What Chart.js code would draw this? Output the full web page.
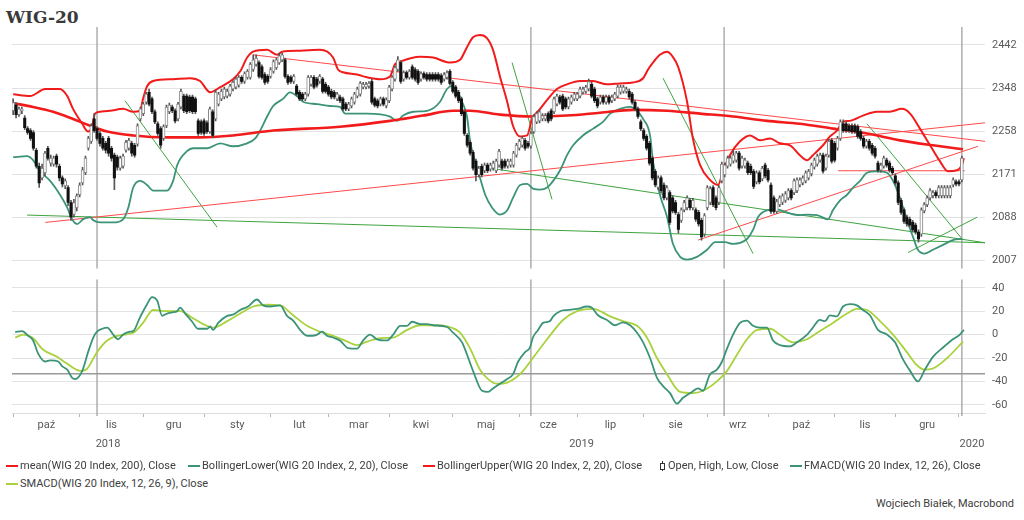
<!DOCTYPE html>
<html lang="pl">
<head>
<meta charset="utf-8">
<title>WIG-20</title>
<script src="https://cdn.jsdelivr.net/npm/chart.js@4.4.1/dist/chart.umd.min.js"></script>
<style>
  html,body{margin:0;padding:0;background:#fff;}
  body{width:1024px;height:520px;position:relative;overflow:hidden;font-family:Roboto,"Open Sans",sans-serif;color:#404040;}
  #title{position:absolute;left:6px;top:7px;font:bold 17px/20px "DejaVu Serif",serif;color:#3a3a3a;}
  #c1{position:absolute;left:0;top:0;}
  #c2{position:absolute;left:0;top:266px;}
  .lg{position:absolute;font-size:11px;line-height:14px;white-space:nowrap;color:#404040;}
  .mk{position:absolute;height:2px;width:12px;}
  #src{position:absolute;right:10px;top:497px;font-size:11px;line-height:14px;color:#404040;}
</style>
</head>
<body>
<div id="title">WIG-20</div>
<canvas id="c1" width="1024" height="282"></canvas>
<canvas id="c2" width="1024" height="186"></canvas>

<span class="mk" style="left:6px;top:465px;background:#f21b1b"></span>
<span class="lg" style="left:20px;top:459px">mean(WIG 20 Index, 200), Close</span>
<span class="mk" style="left:188px;top:465px;background:#3b9378"></span>
<span class="lg" style="left:202px;top:459px">BollingerLower(WIG 20 Index, 2, 20), Close</span>
<span class="mk" style="left:423px;top:465px;background:#f21b1b"></span>
<span class="lg" style="left:437px;top:459px">BollingerUpper(WIG 20 Index, 2, 20), Close</span>
<span style="position:absolute;left:662px;top:461px;width:1px;height:10px;background:#333"></span>
<span style="position:absolute;left:660px;top:463px;width:3px;height:5px;border:1px solid #333;background:#fff"></span>
<span class="lg" style="left:668px;top:459px">Open, High, Low, Close</span>
<span class="mk" style="left:790px;top:465px;background:#3b9378"></span>
<span class="lg" style="left:804px;top:459px">FMACD(WIG 20 Index, 12, 26), Close</span>
<span class="mk" style="left:6px;top:483px;background:#a9d23c"></span>
<span class="lg" style="left:20px;top:477px">SMACD(WIG 20 Index, 12, 26, 9), Close</span>
<div id="src">Wojciech Białek, Macrobond</div>

<script>
// ---------------- DATA ----------------
// x unit = one weekday; index 0 = 1 Oct 2018
const xMin = -0.4, xMax = 336;
const monthStarts = [0,23,45,66,89,109,130,152,175,195,218,240,261,284,305,327];
const monthNames = ['paź','lis','gru','sty','lut','mar','kwi','maj','cze','lip','sie','wrz','paź','lis','gru'];
const yearStarts = [66,327];
const yearNames = ['2018','2019','2020'];
const priceTicks = [2007,2088,2171,2258,2348,2442];
const macdTicks = [-60,-50,-40,-30,-20,-10,0,10,20,30,40];
const markerDays = [29,179,245.8,328];
const macdRefLevel = -33.5;

const candleOpen = [
2300,2312,2292,2300,2285,2263,2259,2255,2219,2187,
2164,2174,2223,2193,2191,2207,2187,2164,2148,2145,
2116,2093,2106,2131,2154,2174,2223,2237,2283,2263,
2253,2243,2233,2243,2223,2209,2205,2183,2187,2219,
2223,2233,2229,2231,2283,2294,2318,2339,2325,2298,
2273,2263,2243,2269,2298,2308,2300,2283,2308,2331,
2331,2329,2329,2325,2279,2277,2279,2275,2257,2298,
2283,2314,2325,2329,2331,2335,2346,2350,2354,2371,
2362,2371,2371,2388,2399,2403,2394,2377,2373,2373,
2384,2392,2403,2409,2409,2373,2371,2362,2352,2339,
2335,2325,2335,2356,2371,2367,2362,2367,2356,2350,
2341,2339,2325,2329,2325,2314,2304,2310,2318,2331,
2335,2350,2350,2352,2362,2325,2321,2314,2325,2310,
2321,2346,2367,2388,2403,2367,2381,2371,2394,2388,
2384,2367,2379,2377,2377,2377,2377,2377,2375,2367,
2371,2384,2360,2350,2339,2325,2298,2249,2235,2215,
2197,2170,2187,2178,2189,2181,2183,2178,2189,2197,
2197,2187,2189,2189,2209,2223,2229,2239,2233,2227,
2257,2277,2279,2283,2283,2294,2300,2298,2314,2329,
2331,2325,2308,2318,2325,2325,2331,2339,2341,2346,
2356,2346,2325,2318,2329,2318,2329,2321,2325,2331,
2339,2341,2341,2341,2335,2318,2304,2277,2259,2247,
2233,2203,2177,2145,2164,2150,2125,2135,2125,2116,
2093,2082,2102,2106,2120,2106,2102,2097,2082,2056,
2106,2116,2145,2125,2116,2158,2170,2187,2191,2197,
2199,2213,2187,2187,2193,2187,2177,2156,2174,2162,
2189,2179,2150,2125,2099,2112,2116,2120,2125,2139,
2135,2139,2150,2154,2158,2164,2172,2185,2191,2199,
2209,2183,2209,2239,2233,2223,2243,2273,2273,2269,
2269,2269,2267,2257,2243,2227,2237,2229,2223,2193,
2179,2187,2199,2193,2183,2168,2154,2120,2102,2088,
2084,2078,2073,2060,2056,2100,2112,2125,2129,2135,
2129,2129,2129,2129,2129,2150,2156,2156,2160];

const candleHigh = [
2325,2317,2308,2308,2290,2267,2263,2259,2223,2193,
2191,2217,2227,2209,2207,2211,2191,2168,2162,2149,
2120,2122,2133,2154,2185,2207,2247,2273,2294,2267,
2257,2247,2237,2247,2227,2213,2209,2207,2211,2239,
2243,2237,2233,2273,2308,2318,2339,2346,2329,2302,
2277,2267,2271,2312,2316,2312,2304,2318,2346,2335,
2335,2333,2333,2329,2283,2281,2283,2279,2308,2302,
2343,2339,2346,2350,2346,2356,2364,2371,2375,2375,
2383,2388,2403,2420,2420,2407,2398,2381,2377,2392,
2409,2413,2424,2424,2413,2377,2375,2377,2356,2343,
2339,2339,2375,2375,2375,2371,2377,2371,2360,2354,
2346,2343,2339,2333,2329,2318,2318,2329,2339,2350,
2362,2360,2360,2362,2367,2329,2325,2329,2329,2327,
2354,2375,2396,2416,2407,2385,2385,2388,2398,2392,
2388,2383,2383,2381,2381,2381,2381,2381,2379,2381,
2385,2388,2364,2354,2343,2329,2302,2253,2239,2219,
2201,2187,2191,2193,2193,2193,2197,2201,2221,2201,
2201,2201,2201,2217,2233,2241,2247,2243,2237,2257,
2292,2298,2302,2294,2294,2298,2304,2329,2335,2333,
2335,2329,2329,2333,2339,2339,2350,2350,2354,2367,
2360,2350,2329,2333,2333,2333,2333,2333,2339,2354,
2354,2354,2350,2346,2339,2322,2308,2281,2263,2251,
2237,2207,2181,2168,2168,2154,2149,2139,2129,2120,
2097,2106,2120,2129,2124,2124,2106,2101,2086,2095,
2149,2147,2149,2129,2149,2195,2193,2207,2207,2219,
2217,2217,2207,2203,2197,2191,2181,2178,2178,2187,
2193,2183,2154,2129,2122,2129,2133,2137,2143,2143,
2162,2164,2164,2168,2178,2181,2193,2203,2211,2213,
2213,2211,2241,2243,2237,2247,2281,2281,2277,2273,
2273,2273,2271,2261,2247,2241,2241,2233,2227,2197,
2193,2207,2203,2197,2187,2172,2158,2124,2106,2092,
2088,2082,2077,2064,2106,2116,2129,2143,2139,2139,
2149,2149,2149,2149,2149,2164,2160,2160,2207];

const candleLow = [
2292,2285,2288,2294,2261,2251,2239,2219,2183,2145,
2160,2168,2199,2187,2187,2185,2158,2146,2143,2110,
2082,2088,2100,2127,2150,2170,2219,2233,2255,2239,
2227,2219,2213,2207,2197,2141,2179,2179,2183,2215,
2219,2207,2205,2227,2279,2290,2314,2310,2294,2273,
2249,2223,2239,2265,2294,2296,2275,2279,2304,2296,
2294,2296,2294,2294,2249,2251,2249,2253,2253,2245,
2279,2310,2321,2325,2327,2331,2342,2346,2350,2358,
2358,2367,2367,2384,2395,2369,2367,2356,2358,2369,
2380,2388,2399,2405,2369,2356,2358,2358,2331,2321,
2321,2321,2331,2352,2346,2350,2358,2337,2337,2331,
2325,2325,2321,2317,2300,2300,2300,2306,2314,2327,
2331,2346,2346,2348,2314,2308,2306,2310,2310,2306,
2317,2342,2363,2384,2358,2363,2367,2367,2367,2363,
2356,2363,2367,2363,2363,2363,2363,2363,2356,2363,
2367,2354,2337,2327,2317,2290,2249,2225,2209,2179,
2158,2166,2166,2174,2174,2177,2179,2174,2185,2179,
2183,2183,2185,2185,2205,2219,2225,2219,2223,2223,
2253,2273,2275,2279,2279,2275,2279,2294,2310,2314,
2300,2304,2304,2314,2321,2321,2327,2335,2337,2342,
2327,2317,2306,2314,2314,2314,2314,2317,2321,2327,
2335,2337,2337,2325,2314,2300,2284,2259,2239,2219,
2189,2160,2146,2141,2135,2121,2121,2074,2096,2093,
2058,2078,2098,2102,2102,2102,2080,2071,2045,2052,
2102,2112,2108,2102,2112,2154,2166,2183,2187,2193,
2195,2179,2183,2183,2170,2170,2143,2152,2152,2158,
2164,2156,2095,2095,2095,2108,2112,2116,2121,2121,
2131,2135,2146,2150,2154,2160,2168,2181,2187,2195,
2173,2179,2205,2193,2195,2219,2239,2255,2255,2255,
2253,2253,2243,2239,2223,2223,2219,2209,2203,2175,
2175,2183,2185,2175,2170,2150,2112,2093,2076,2071,
2069,2060,2056,2041,2052,2096,2108,2121,2125,2125,
2125,2125,2125,2125,2125,2146,2148,2148,2156];

const candleClose = [
2317,2292,2304,2304,2265,2255,2243,2223,2187,2154,
2183,2213,2203,2203,2203,2191,2164,2152,2158,2116,
2088,2116,2129,2150,2180,2203,2243,2269,2259,2243,
2233,2223,2219,2213,2203,2164,2185,2203,2207,2235,
2239,2213,2209,2269,2304,2314,2335,2314,2298,2277,
2253,2229,2267,2308,2312,2300,2279,2314,2341,2300,
2298,2300,2298,2298,2253,2255,2253,2257,2304,2249,
2339,2335,2341,2346,2341,2352,2360,2367,2371,2362,
2379,2384,2399,2409,2413,2373,2371,2360,2362,2388,
2405,2409,2418,2420,2373,2360,2362,2373,2335,2325,
2325,2335,2371,2371,2350,2354,2373,2341,2341,2335,
2329,2329,2335,2321,2304,2304,2314,2325,2335,2346,
2358,2356,2356,2358,2318,2312,2310,2325,2314,2323,
2350,2371,2392,2409,2362,2381,2371,2384,2371,2367,
2360,2379,2371,2367,2367,2367,2367,2367,2360,2377,
2381,2358,2341,2331,2321,2294,2253,2229,2213,2183,
2170,2183,2170,2189,2178,2189,2193,2197,2217,2183,
2187,2197,2197,2213,2229,2237,2243,2223,2227,2253,
2288,2294,2298,2290,2290,2279,2283,2325,2331,2318,
2304,2308,2325,2329,2335,2335,2346,2346,2350,2362,
2331,2321,2310,2329,2318,2329,2318,2329,2335,2350,
2350,2350,2346,2329,2318,2304,2288,2263,2243,2223,
2193,2164,2150,2164,2139,2125,2145,2078,2100,2097,
2065,2102,2116,2125,2106,2120,2084,2075,2051,2091,
2145,2143,2112,2106,2145,2191,2189,2203,2203,2209,
2213,2183,2203,2199,2174,2174,2147,2174,2156,2183,
2168,2160,2099,2099,2118,2125,2129,2133,2139,2125,
2158,2160,2160,2164,2174,2177,2189,2199,2207,2209,
2177,2207,2237,2197,2199,2243,2277,2259,2259,2259,
2257,2257,2247,2243,2227,2237,2223,2213,2207,2179,
2189,2203,2189,2179,2174,2154,2116,2097,2080,2075,
2073,2064,2060,2047,2102,2112,2125,2139,2135,2129,
2145,2145,2145,2145,2145,2160,2152,2152,2203];

// [weekday index, value]
const mean200 = [[0,2316],[6.9,2308],[13.8,2298],[20.7,2283],[26.6,2269],[32.5,2257],[41.5,2249],[53.2,2245],[64.6,2245],[76,2249],[89.9,2259],[113,2267],[130.3,2279],[141.7,2290],[152.1,2300],[158,2300],[168.3,2292],[179.7,2288],[191.5,2290],[202.9,2296],[214.3,2302],[226.1,2300],[237.5,2294],[248.9,2288],[260.6,2279],[272,2273],[283.4,2263],[295.2,2253],[306.6,2239],[318,2229],[328.4,2221]];

const bbUpper = [[0,2335],[5.9,2331],[11.1,2346],[16.2,2346],[18.7,2331],[20.7,2304],[23.9,2273],[25.9,2257],[27.3,2267],[28.3,2294],[30.1,2298],[33.5,2300],[38,2304],[41.5,2298],[43.9,2300],[44.9,2325],[46.3,2352],[48.4,2363],[55.3,2367],[61.2,2369],[64.6,2363],[68.1,2339],[71.6,2350],[76,2367],[78.5,2384],[80.9,2414],[83,2427],[87.8,2431],[91.3,2420],[93,2427],[99.2,2429],[106.1,2431],[110.6,2414],[112.3,2388],[114.1,2382],[118.9,2377],[122.4,2371],[126.9,2367],[130.3,2373],[132,2399],[133.8,2405],[140.7,2416],[145.2,2414],[151.1,2403],[154.5,2409],[156.9,2437],[159,2459],[161.4,2464],[163.8,2457],[165.9,2431],[168.3,2373],[170.8,2319],[172.8,2269],[175.3,2247],[177.7,2249],[179.4,2283],[182.2,2304],[184.9,2325],[188,2346],[191.5,2356],[196,2363],[200.5,2363],[205.3,2356],[209.8,2358],[214.3,2360],[217.8,2369],[219.5,2388],[221.2,2403],[223.6,2420],[226.1,2427],[227.8,2418],[229.9,2394],[233,2319],[235,2243],[237.5,2189],[240.9,2160],[243.7,2150],[245.4,2177],[247.8,2209],[251.3,2237],[254.8,2249],[258.2,2239],[261.7,2243],[265.1,2233],[268.6,2229],[272,2209],[274.5,2199],[276.5,2209],[280,2229],[282.4,2247],[284.8,2259],[286.9,2277],[289.3,2279],[293.8,2290],[298.6,2298],[303.1,2298],[307.3,2304],[310.1,2294],[313.5,2263],[317,2229],[320.4,2197],[323.2,2177],[326.3,2179],[328,2189],[328.7,2203]];

const bbLower = [[0,2205],[4.8,2207],[6.9,2199],[9.3,2177],[12.8,2158],[16.2,2131],[18.7,2106],[20.4,2084],[22.1,2075],[24.2,2084],[26.6,2088],[27.7,2082],[30.1,2078],[34.6,2078],[38,2084],[39.8,2106],[41.5,2145],[43.9,2158],[46.3,2150],[48.4,2139],[53.2,2139],[55.3,2158],[56.7,2189],[60.1,2217],[62.2,2223],[67.1,2223],[71.6,2233],[76,2227],[80.9,2233],[83.7,2243],[85.4,2259],[87.8,2288],[89.9,2310],[93.3,2325],[95.7,2339],[98.5,2329],[100.2,2319],[105.1,2314],[109.6,2310],[113,2308],[114.8,2294],[122.4,2294],[130.3,2288],[132.7,2279],[134.8,2290],[138.3,2298],[143.1,2300],[147.6,2319],[150,2346],[151.7,2352],[153.5,2341],[155.2,2319],[156.9,2288],[158,2237],[159.7,2197],[161.4,2164],[163.2,2131],[165.6,2106],[168.3,2093],[170.8,2101],[172.8,2125],[175.3,2150],[177.7,2152],[179.7,2143],[182.2,2141],[184.6,2145],[186.7,2158],[189.1,2179],[191.5,2209],[193.6,2229],[197,2249],[200.5,2263],[203.9,2277],[206.4,2294],[209.8,2304],[213.3,2308],[215.7,2300],[217.8,2283],[220.2,2249],[221.2,2197],[223.6,2131],[226.1,2088],[228.1,2038],[230.6,2014],[233,2009],[236.4,2014],[239.9,2027],[242.7,2041],[246.1,2041],[248.9,2038],[253.7,2047],[255.8,2064],[257.5,2088],[260.6,2101],[264.1,2103],[267.5,2097],[271,2092],[274.5,2093],[277.9,2092],[281.7,2084],[283.4,2101],[285.9,2120],[288.3,2131],[290.4,2145],[292.8,2158],[295.2,2174],[298.6,2177],[302.1,2174],[304.2,2158],[306.6,2125],[309,2082],[311.1,2051],[312.8,2027],[315.2,2020],[318,2027],[321.5,2036],[324.9,2045],[328,2047]];

const redTrends = [
  [[83,2420],[336,2237]],
  [[11.1,2078],[336,2275]],
  [[236.8,2045],[333.6,2227]],
  [[285.2,2178],[329,2178]]
];
const greenTrends = [
  [[4.8,2092],[336,2040]],
  [[38.7,2321],[70.5,2069]],
  [[172.5,2403],[186.3,2122]],
  [[164.9,2183],[336,2040]],
  [[224.7,2369],[255.8,2020]],
  [[295.2,2273],[328.4,2045]],
  [[309.4,2022],[333.3,2088]]
];

const fmacd = [[0.7,2.2],[3.1,3],[5.2,-1],[6.9,-5],[8.6,-16],[11.1,-23],[12.8,-22],[15.6,-23],[16.9,-27],[18.7,-30],[20.4,-37],[21.4,-38],[23.9,-31],[25.9,-15],[27.7,-2.5],[29,2.5],[30.8,5],[32.5,6],[34.6,0],[36.3,-4],[38,0],[40.4,2.5],[41.5,3],[43.9,15],[46.3,26],[48,32],[49.8,29],[51.5,16],[53.2,18],[55,19],[56.7,20],[57.7,23],[59.5,18],[61.9,11],[63.9,5],[67.1,5],[68.1,7],[69.1,4],[70.9,10],[74,16],[76,17],[78.5,21],[81.2,24],[84.3,30],[86.4,25],[88.8,24],[92.3,25],[94.7,16],[96.8,12],[99.2,4],[101.6,-1],[103.4,-1],[105.1,0],[106.8,2.5],[108.5,-1],[110.6,-2.5],[113,-5],[115.8,-11.5],[118.9,-12],[121,-5],[123.4,0],[125.8,-4],[129.3,-5],[131.4,0],[133.8,7.5],[136.2,7.5],[137.9,11],[140.7,9],[143.1,9],[145.2,8],[150,6.5],[152.1,1.6],[155.2,-6.6],[156.9,-17],[159,-31],[162.1,-48],[164.2,-49],[165.9,-46],[168.3,-42],[170.8,-38],[172.8,-34],[174.6,-23],[177,-15],[178.7,-11],[179.7,-2.5],[181.5,4],[183.2,10],[185.6,11.5],[186.7,15.6],[189.1,20],[191.5,21],[195,22],[198.4,24],[200.1,23],[202.2,16.5],[205.3,12.5],[208.1,8],[210.8,10.5],[213.3,8],[215.7,1.6],[217.8,-6.6],[220.2,-20],[222.6,-37],[224.7,-44],[227.1,-50],[229.5,-59],[231.6,-54],[234.7,-49],[236.8,-46],[238.5,-48],[240.9,-34],[243.3,-30],[245.1,-23],[246.8,-12],[248.9,0],[251.3,10],[253.7,12],[255.8,7.5],[258.2,6],[260.6,6],[262.7,-5],[265.1,-9],[268.6,-10],[271,-6.6],[274.5,0],[276.5,6],[278.9,12.5],[280.7,11.5],[282.4,16.5],[284.8,15.6],[286.9,24],[289.3,26],[291.7,25],[293.8,21],[296.2,16.5],[299,4],[302.1,0],[304.9,-6.6],[307.6,-21],[310.1,-31],[312.8,-40],[315.2,-30],[318,-19],[321.5,-11],[324.9,-4],[327.3,0],[328.7,4]];

const smacd = [[0.7,-2.5],[3.5,0],[6.6,-2.5],[10.4,-13],[15.2,-19],[18.7,-25],[23.2,-31],[25.6,-29],[29,-15],[32.5,-5],[35.9,-1],[41.5,1.6],[44.9,10],[48.4,21],[53.2,20],[57.7,20],[62.2,14],[65.7,9],[69.1,6],[74,11.5],[78.5,18],[83,24],[87.8,25.5],[92.3,25],[96.8,16.5],[101.6,7.5],[106.1,2.5],[110.6,-1],[115.5,-6],[118.9,-9],[122.4,-6],[126.9,-3],[131.4,-2.5],[136.2,4],[140.7,8],[145.2,8],[150,7],[154.5,1.6],[158,-12],[161.4,-30],[164.2,-38],[167.3,-42],[170.8,-41],[174.2,-36],[176.3,-31],[179.7,-20],[184.6,-4],[190.1,12.5],[195,20],[200.5,22],[206.4,15.6],[210.8,11.5],[215.7,7.5],[219.1,-2.5],[222.6,-20],[226.1,-34],[230.6,-49],[235,-50],[238.5,-48],[243.3,-40],[246.8,-31],[250.3,-17],[253.7,-4],[257.2,4],[261.7,5],[265.1,0],[269.6,-6.6],[274.5,-4],[278.9,3],[283.4,10],[288.3,18],[291.7,22],[295.2,21],[299.7,11.5],[304.2,0],[309,-15],[312.4,-26],[315.2,-30],[318,-29],[322.9,-20],[328.4,-6]];

// ---------------- CHARTS ----------------
Chart.defaults.font.family = "Roboto, 'Open Sans', sans-serif";
Chart.defaults.font.size = 11;
Chart.defaults.color = '#595959';

const RED = '#f21b1b', TEAL = '#3b9378', LIME = '#a9d23c', GREEN = '#3fa33f', TRED = '#ff4a4a';
const pts = arr => arr.map(([x, y]) => ({x, y}));
const mids = (a) => a.slice(0, -1).map((v, i) => (v + a[i + 1]) / 2);
const monthMid = mids(monthStarts);
const yearBounds = [xMin, ...yearStarts, xMax];
const yearMid = mids(yearBounds);

const wickData = candleOpen.map((o, i) => ({x: i, y: [candleLow[i], candleHigh[i]]}));
const upData = [], downData = [];
candleOpen.forEach((o, i) => {
  const c = candleClose[i];
  const d = {x: i, y: [Math.min(o, c), Math.max(o, c)]};
  (c >= o ? upData : downData).push(d);
});

const lineDs = (data, color, width, order, smooth = true) => ({
  type: 'line', data: pts(data), borderColor: color, borderWidth: width,
  pointRadius: 0, fill: false, order,
  cubicInterpolationMode: smooth ? 'monotone' : 'default', tension: 0
});

const vlines = {
  id: 'vlines',
  beforeDatasetsDraw(chart, args, o) {
    const {ctx, chartArea: a, scales: {x}} = chart;
    ctx.save();
    ctx.strokeStyle = '#a8a8a8';
    ctx.lineWidth = 1.4;
    markerDays.forEach(d => {
      const px = x.getPixelForValue(d);
      ctx.beginPath();
      ctx.moveTo(px, a.top);
      ctx.lineTo(px, a.bottom + (o.extend || 0));
      ctx.stroke();
    });
    ctx.restore();
  }
};

const common = {responsive: false, animation: false, events: []};

new Chart(document.getElementById('c1'), {
  type: 'line',
  data: {
    datasets: [
      {type: 'bar', data: downData, backgroundColor: '#111', barThickness: 2.4, grouped: false, order: 1},
      {type: 'bar', data: upData, backgroundColor: '#fff', borderColor: '#8a8a8a', borderWidth: 1, borderSkipped: false, barThickness: 3, grouped: false, order: 2},
      {type: 'bar', data: wickData, backgroundColor: '#555', barThickness: 1, grouped: false, order: 3},
      lineDs(mean200, RED, 2.6, 10),
      lineDs(bbUpper, RED, 2, 11),
      lineDs(bbLower, TEAL, 1.8, 12),
      ...redTrends.map(t => lineDs(t, TRED, 1, 20, false)),
      ...greenTrends.map(t => lineDs(t, GREEN, 1, 21, false))
    ]
  },
  options: {
    ...common,
    layout: {padding: {left: 12, top: 27, right: 0, bottom: 10}},
    plugins: {legend: {display: false}, tooltip: {enabled: false}, vlines: {extend: 0}},
    scales: {
      x: {type: 'linear', display: false, min: xMin, max: xMax, offset: false},
      y: {
        type: 'logarithmic', position: 'right', min: 1993, max: 2482,
        afterBuildTicks: s => { s.ticks = priceTicks.map(v => ({value: v})); },
        afterFit: s => { s.width = 39; },
        ticks: {padding: 7, callback: v => String(v)},
        grid: {color: '#e3e3e3', drawTicks: false},
        border: {display: false}
      }
    }
  },
  plugins: [vlines]
});

new Chart(document.getElementById('c2'), {
  type: 'line',
  data: {
    datasets: [
      lineDs([[xMin, macdRefLevel], [xMax, macdRefLevel]], '#9a9a9a', 1.4, 30, false),
      lineDs(smacd, LIME, 1.8, 2),
      lineDs(fmacd, TEAL, 1.8, 1)
    ]
  },
  options: {
    ...common,
    layout: {padding: {left: 12, top: 9, right: 0, bottom: 0}},
    plugins: {legend: {display: false}, tooltip: {enabled: false}, vlines: {extend: 3}},
    scales: {
      x: {
        type: 'linear', position: 'bottom', min: xMin, max: xMax, weight: 0, offset: false,
        afterBuildTicks: s => { s.ticks = monthStarts.map(v => ({value: v})); },
        afterFit: s => { s.height = 5; },
        ticks: {display: false},
        grid: {drawOnChartArea: false, drawTicks: true, tickLength: 4, color: '#b5b5b5'},
        border: {display: true, color: '#dcdcdc'}
      },
      xm: {
        type: 'linear', position: 'bottom', min: xMin, max: xMax, weight: 1, offset: false,
        afterBuildTicks: s => { s.ticks = monthMid.map(v => ({value: v})); },
        afterFit: s => { s.height = 17; },
        ticks: {padding: 1, maxRotation: 0, autoSkip: false, callback: (v, i) => monthNames[i]},
        grid: {display: false, drawTicks: false}, border: {display: false}
      },
      xy: {
        type: 'linear', position: 'bottom', min: xMin, max: xMax, weight: 2, offset: false,
        afterBuildTicks: s => { s.ticks = yearMid.map(v => ({value: v})); },
        afterFit: s => { s.height = 17; },
        ticks: {padding: 3, maxRotation: 0, autoSkip: false, callback: (v, i) => yearNames[i]},
        grid: {display: false, drawTicks: false}, border: {display: false}
      },
      y: {
        position: 'right', min: -67, max: 47,
        afterBuildTicks: s => { s.ticks = macdTicks.map(v => ({value: v})); },
        afterFit: s => { s.width = 39; },
        ticks: {padding: 7, callback: v => (v % 20 === 0 ? String(v) : '')},
        grid: {color: '#e3e3e3', drawTicks: false},
        border: {display: false}
      }
    }
  },
  plugins: [vlines]
});
</script>
</body>
</html>
